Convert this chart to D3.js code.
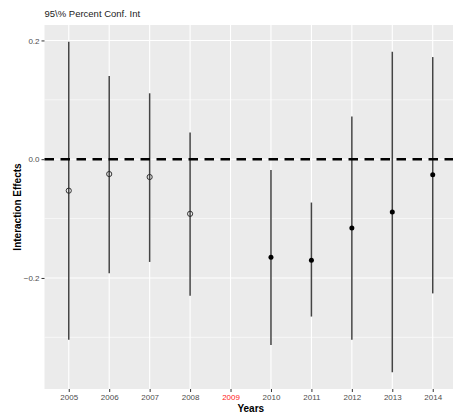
<!DOCTYPE html>
<html>
<head>
<meta charset="utf-8">
<script src="https://cdn.jsdelivr.net/npm/d3@7"></script>
<style>
  html, body { margin: 0; padding: 0; background: #fff; }
  svg { display: block; font-family: "Liberation Sans", Arial, Helvetica, sans-serif; }
</style>
</head>
<body>
<svg id="chart" width="453" height="417"></svg>
<script>
// Yearly interaction effects with 95% confidence intervals
const years    = ["2005", "2006", "2007", "2008", "2009", "2010", "2011", "2012", "2013", "2014"];
const estimate = [-0.053, -0.025, -0.030, -0.092, null, -0.165, -0.170, -0.116, -0.089, -0.026];
const lower    = [-0.304, -0.192, -0.173, -0.230, null, -0.313, -0.265, -0.304, -0.359, -0.226];
const upper    = [ 0.198,  0.140,  0.111,  0.045, null, -0.018, -0.073,  0.072,  0.181,  0.172];
const hollow   = [true, true, true, true, null, false, false, false, false, false];
const yTicks   = [-0.2, 0.0, 0.2];
const yMinor   = [-0.3, -0.1, 0.1];

const svg = d3.select("#chart");
const panel = { left: 44.5, right: 457, top: 25, bottom: 389 };

const x = d3.scalePoint()
  .domain(years)
  .range([panel.left, panel.right])
  .padding(0.6);

const y = d3.scaleLinear()
  .domain([-0.387, 0.226])
  .range([panel.bottom, panel.top]);

// panel background
svg.append("rect")
  .attr("x", panel.left).attr("y", panel.top)
  .attr("width", panel.right - panel.left)
  .attr("height", panel.bottom - panel.top)
  .attr("fill", "#EBEBEB");

const grid = svg.append("g");
grid.selectAll("line.minor").data(yMinor).join("line")
  .attr("x1", panel.left).attr("x2", panel.right)
  .attr("y1", d => y(d)).attr("y2", d => y(d))
  .attr("stroke", "#fff").attr("stroke-width", 0.6);
grid.selectAll("line.majorY").data(yTicks).join("line")
  .attr("x1", panel.left).attr("x2", panel.right)
  .attr("y1", d => y(d)).attr("y2", d => y(d))
  .attr("stroke", "#fff").attr("stroke-width", 1.1);
grid.selectAll("line.majorX").data(years).join("line")
  .attr("x1", d => x(d)).attr("x2", d => x(d))
  .attr("y1", panel.top).attr("y2", panel.bottom)
  .attr("stroke", "#fff").attr("stroke-width", 1.1);

const rows = years.map((yr, i) => ({
  year: yr, est: estimate[i], lo: lower[i], hi: upper[i], hollow: hollow[i]
})).filter(d => d.est !== null);

// confidence intervals
svg.append("g").selectAll("line").data(rows).join("line")
  .attr("x1", d => x(d.year)).attr("x2", d => x(d.year))
  .attr("y1", d => y(d.lo)).attr("y2", d => y(d.hi))
  .attr("stroke", "#444").attr("stroke-width", 1.5);

// reference line at zero
svg.append("line")
  .attr("x1", panel.left).attr("x2", panel.right)
  .attr("y1", y(0)).attr("y2", y(0))
  .attr("stroke", "#000").attr("stroke-width", 2.4)
  .attr("stroke-dasharray", "9.5,6.5");

// point estimates
svg.append("g").selectAll("circle").data(rows).join("circle")
  .attr("cx", d => x(d.year)).attr("cy", d => y(d.est))
  .attr("r", d => d.hollow ? 2.6 : 2.5)
  .attr("fill", d => d.hollow ? "none" : "#000")
  .attr("stroke", d => d.hollow ? "#222" : "none")
  .attr("stroke-width", 0.9);

// y axis
const yAxis = svg.append("g")
  .attr("transform", `translate(${panel.left},0)`)
  .call(d3.axisLeft(y).tickValues(yTicks).tickSize(3).tickPadding(2)
    .tickFormat(d3.format(".1f")));
yAxis.select(".domain").remove();
yAxis.selectAll(".tick line").attr("stroke", "#333").attr("stroke-width", 1);
yAxis.selectAll(".tick text")
  .attr("fill", "#4D4D4D").style("font-size", "8px")
  .style("font-family", "'Liberation Sans', Arial, sans-serif");

// x axis
const xAxis = svg.append("g")
  .attr("transform", `translate(0,${panel.bottom})`)
  .call(d3.axisBottom(x).tickSize(3).tickPadding(2));
xAxis.select(".domain").remove();
xAxis.selectAll(".tick line").attr("stroke", "#333").attr("stroke-width", 1);
xAxis.selectAll(".tick text")
  .attr("fill", d => d === "2009" ? "#FF2020" : "#4D4D4D")
  .style("font-size", "8px")
  .style("font-family", "'Liberation Sans', Arial, sans-serif");

// titles
svg.append("text")
  .attr("x", (panel.left + panel.right) / 2).attr("y", 412)
  .attr("text-anchor", "middle")
  .style("font-size", "10px").style("font-weight", "bold")
  .text("Years");

svg.append("text")
  .attr("transform", `translate(17,${(panel.top + panel.bottom) / 2}) rotate(-90)`)
  .attr("text-anchor", "middle")
  .attr("dy", "0.35em")
  .style("font-size", "10px").style("font-weight", "bold")
  .text("Interaction Effects");

svg.append("text")
  .attr("x", panel.left).attr("y", 17)
  .style("font-size", "9.5px").attr("fill", "#222")
  .text("95\\% Percent Conf. Int");
</script>
</body>
</html>
